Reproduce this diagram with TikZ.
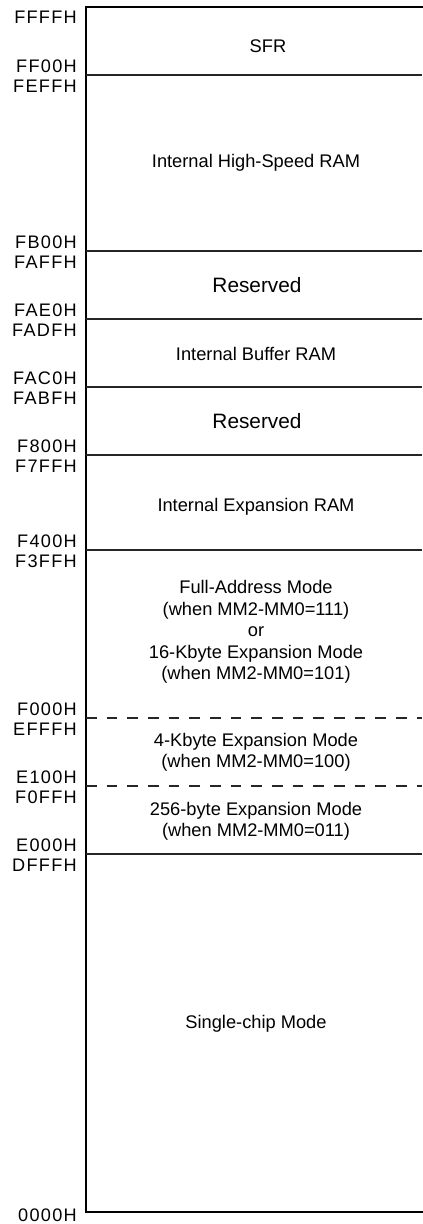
\documentclass[tikz,border=0pt]{standalone}
\usepackage{fontspec}
\setmainfont{Liberation Sans}
\newfontfamily\addrfont[LetterSpace=7]{Liberation Sans}
\usetikzlibrary{positioning}

\begin{document}
\begin{tikzpicture}[
    x=0.75pt, y=-0.75pt,
    addr/.style={anchor=east, font=\addrfont\fontsize{13.6}{16}\selectfont, inner sep=0pt},
    area/.style={font=\fontsize{13.7}{16.1}\selectfont, align=center, inner sep=0pt},
    resv/.style={font=\fontsize{15.6}{18}\selectfont, inner sep=0pt},
    wall/.style={line width=2.2pt, line cap=rect},
    sep/.style={line width=0.9pt, black!85},
    dsep/.style={sep, dash pattern=on 8pt off 7.5pt}]

  % === Frame ===
  \useasboundingbox (0,0) rectangle (422,1224);
  \coordinate (tl) at (86,7);
  \coordinate (tr) at (422,7);
  \coordinate (bl) at (86,1212);
  \coordinate (br) at (422,1212);
  \draw[wall] (tr) -- (tl) -- (bl) -- (br);

  % === Boundaries ===
  \foreach \name/\y in {ff00/75, fb00/251, fae0/319, fac0/387, f800/455, f400/550, e000/854} {
    \coordinate (\name l) at (86,\y);
    \coordinate (\name r) at (422,\y);
    \draw[sep] (\name l) -- (\name r);
  }
  \foreach \name/\y in {f000/718, e100/786} {
    \coordinate (\name l) at (86,\y);
    \coordinate (\name r) at (422,\y);
    \draw[dsep] (\name l) -- (\name r);
  }

  % === Addresses ===
  \node[addr] (aFFFF) at (77,17.5) {FFFFH};
  \node[addr] (aFF00) at (77,66) {FF00H};
  \node[addr] (aFEFF) at (77,86) {FEFFH};
  \node[addr] (aFB00) at (77,242) {FB00H};
  \node[addr] (aFAFF) at (77,262) {FAFFH};
  \node[addr] (aFAE0) at (77,310) {FAE0H};
  \node[addr] (aFADF) at (77,330) {FADFH};
  \node[addr] (aFAC0) at (77,378) {FAC0H};
  \node[addr] (aFABF) at (77,398) {FABFH};
  \node[addr] (aF800) at (77,446) {F800H};
  \node[addr] (aF7FF) at (77,466) {F7FFH};
  \node[addr] (aF400) at (77,541) {F400H};
  \node[addr] (aF3FF) at (77,561) {F3FFH};
  \node[addr] (aF000) at (77,709) {F000H};
  \node[addr] (aEFFF) at (77,729) {EFFFH};
  \node[addr] (aE100) at (77,777) {E100H};
  \node[addr] (aF0FF) at (77,797) {F0FFH};
  \node[addr] (aE000) at (77,845) {E000H};
  \node[addr] (aDFFF) at (77,865) {DFFFH};
  \node[addr] (a0000) at (77,1215) {0000H};

  % === Areas ===
  \node[area] (sfr) at (268,46) {SFR};
  \node[area] (hsram) at (256,163) {Internal High-Speed RAM};
  \node[resv] (resv1) at (257,285) {Reserved};
  \node[area] (bufram) at (256,354) {Internal Buffer RAM};
  \node[resv] (resv2) at (257,421) {Reserved};
  \node[area] (expram) at (256,507) {Internal Expansion RAM};
  \node[area] (full) at (256,632) {Full-Address Mode\\(when MM2-MM0=111)\\or\\16-Kbyte Expansion Mode\\(when MM2-MM0=101)};
  \node[area] (kb4) at (256,752) {4-Kbyte Expansion Mode\\(when MM2-MM0=100)};
  \node[area] (b256) at (256,821) {256-byte Expansion Mode\\(when MM2-MM0=011)};
  \node[area] (single) at (256,1024) {Single-chip Mode};

\end{tikzpicture}
\end{document}
